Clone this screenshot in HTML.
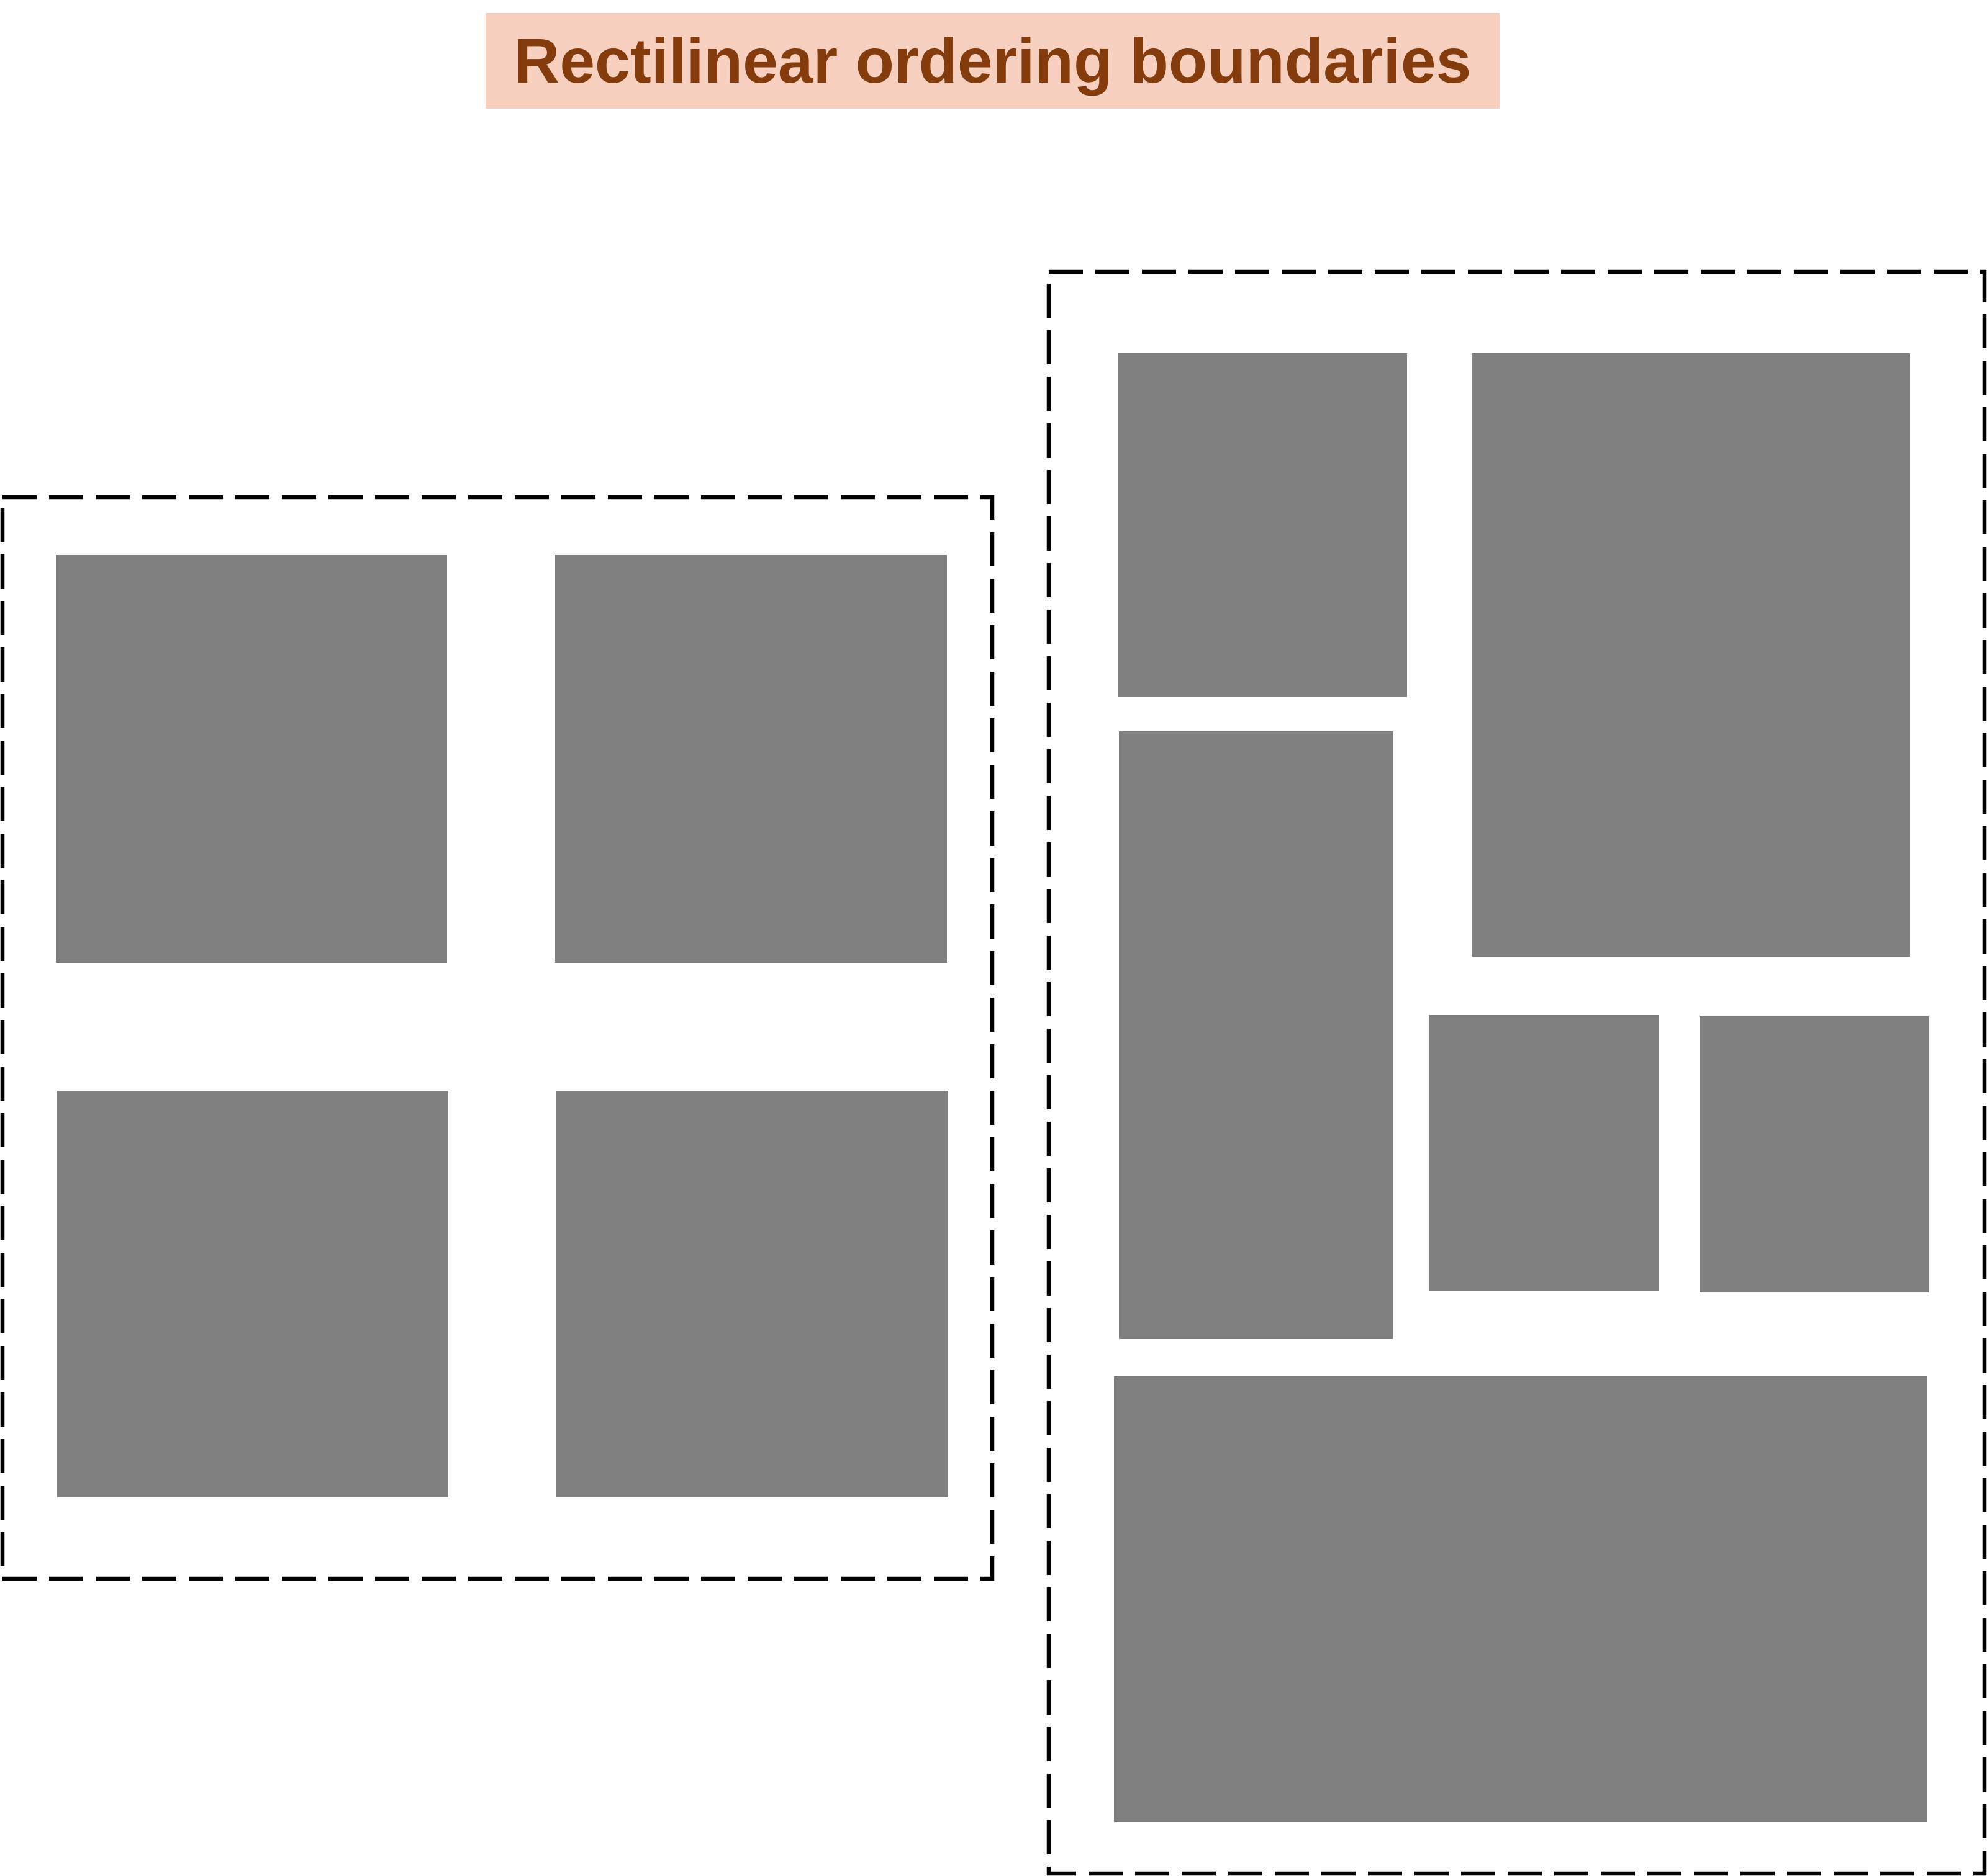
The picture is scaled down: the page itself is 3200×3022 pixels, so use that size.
<!DOCTYPE html>
<html><head><meta charset="utf-8"><style>
html,body{margin:0;padding:0;background:#fff;}
body{width:3200px;height:3022px;position:relative;overflow:hidden;}
.t{position:absolute;left:782px;top:21px;width:1633px;height:154px;background:#f8d0bf;color:#843c0c;font-family:"Liberation Sans",sans-serif;font-weight:bold;font-size:102px;line-height:154px;text-align:center;white-space:nowrap;}
svg{position:absolute;left:0;top:0;}
</style></head><body>
<div class="t">Rectilinear ordering boundaries</div>
<svg width="3200" height="3022" viewBox="0 0 3200 3022">
<g fill="#808080">
<rect x="90" y="894" width="630" height="657"/>
<rect x="894" y="894" width="631" height="657"/>
<rect x="92" y="1757" width="630" height="655"/>
<rect x="896" y="1757" width="631" height="655"/>
<rect x="1800" y="569" width="466" height="554"/>
<rect x="2370" y="569" width="706" height="972"/>
<rect x="1802" y="1178" width="441" height="979"/>
<rect x="2302" y="1635" width="370" height="445"/>
<rect x="2737" y="1637" width="369" height="445"/>
<rect x="1794" y="2217" width="1310" height="718"/>
</g>
<g fill="none" stroke="#000" stroke-width="6.5" stroke-dasharray="55 20">
<rect x="4" y="801" width="1594" height="1742"/>
<rect x="1689" y="438" width="1507" height="2580"/>
</g>
</svg>
</body></html>
